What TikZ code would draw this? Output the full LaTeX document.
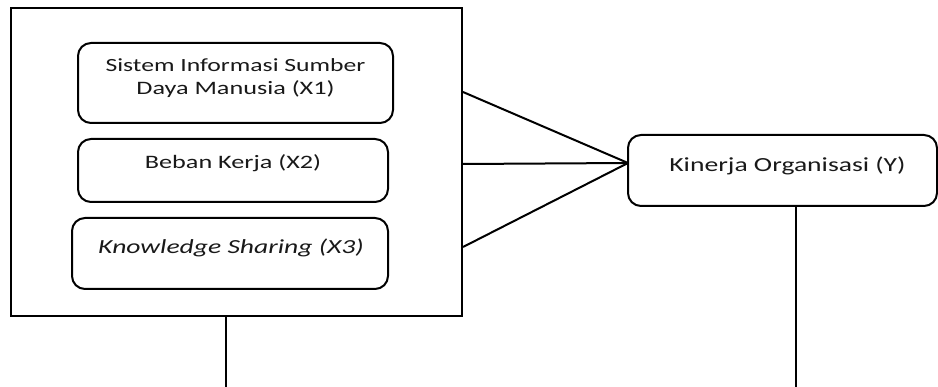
\documentclass[tikz,border=0pt]{standalone}
\usepackage{fontspec}
\setmainfont{Carlito}[FakeStretch=1.38]
\begin{document}
\begin{tikzpicture}[x=1pt,y=-1pt,
  frame/.style={draw=black,line width=2pt,rectangle,inner sep=0pt},
  rbox/.style={frame,rounded corners=13pt},
  lbl/.style={font=\fontsize{19}{23.5}\selectfont,align=center,inner sep=0pt,text=black!90},
  conn/.style={draw=black,line width=2pt}]
\useasboundingbox (0,0) rectangle (938,387);
\node[frame,minimum width=451pt,minimum height=308pt] (outer) at (236.5,162) {};
\node[rbox,minimum width=315pt,minimum height=80pt] (x1) at (235.5,83) {};
\node[lbl] (x1t) at ([yshift=5pt]x1.center) {\fontsize{18.6}{23.5}\selectfont Sistem Informasi Sumber\\Daya Manusia (X1)};
\node[rbox,minimum width=310pt,minimum height=63pt] (x2) at (233,170.5) {};
\node[lbl] (x2t) at ([yshift=7pt]x2.center) {Beban Kerja (X2)};
\node[rbox,minimum width=316pt,minimum height=71pt] (x3) at (230,253.5) {};
\node[lbl] (x3t) at ([yshift=6pt,xshift=1pt]x3.center) {\itshape\fontsize{20}{24}\selectfont Knowledge Sharing (X3)};
\node[rbox,minimum width=309pt,minimum height=71pt] (yb) at (782.5,170.5) {};
\node[lbl] (ybt) at ([yshift=5pt,xshift=5pt]yb.center) {\fontsize{20}{24}\selectfont Kinerja Organisasi (Y)};
\coordinate (yin) at (628,163);
\coordinate (xbot) at (226,387);
\coordinate (ybot) at (796,387);
\draw[conn] (outer.east |- 0,92) -- (yin);
\draw[conn] (outer.east |- 0,164) -- (yin);
\draw[conn] (outer.east |- 0,247) -- (yin);
\draw[conn] (outer.south -| xbot) -- (xbot);
\draw[conn] (yb.south -| ybot) -- (ybot);
\end{tikzpicture}
\end{document}
